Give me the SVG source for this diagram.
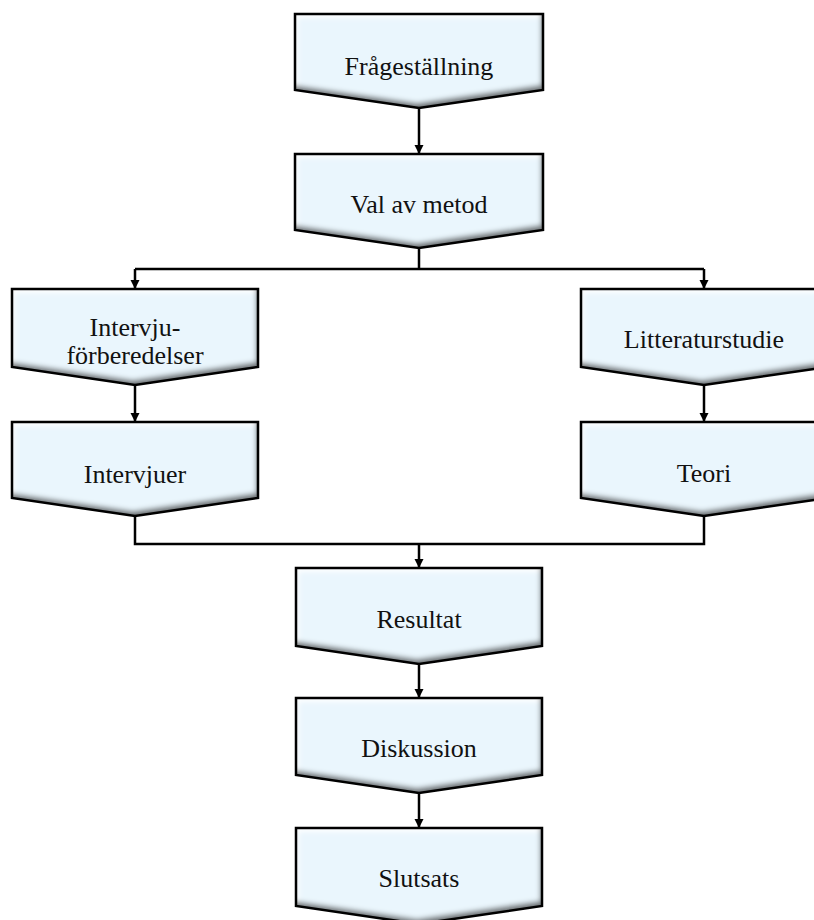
<svg xmlns="http://www.w3.org/2000/svg" width="814" height="920" viewBox="0 0 814 920">
<style>
.fill{fill:#eaf6fd;filter:url(#bevel)}
.edge{fill:none;stroke:#000;stroke-width:2.5;stroke-linejoin:miter}
.lbl{font-family:"Liberation Serif","Times New Roman",serif;font-size:26px;fill:#111;text-anchor:middle}
.con{fill:none;stroke:#000;stroke-width:2.5}
</style>
<defs>
<marker id="ah" viewBox="0 0 10 10" refX="10" refY="5" markerWidth="3.8" markerHeight="3.8" orient="auto" markerUnits="strokeWidth">
<path d="M0,0 L10,5 L0,10 z" fill="#000"/>
</marker>
<filter id="bevel" x="-5%" y="-5%" width="110%" height="110%">
<feGaussianBlur in="SourceAlpha" stdDeviation="2.5" result="b"/>
<feOffset in="b" dx="-2" dy="-5" result="o1"/>
<feComposite in="SourceAlpha" in2="o1" operator="out" result="m1"/>
<feFlood flood-color="#3a3a3a" flood-opacity="0.85"/>
<feComposite in2="m1" operator="in" result="shadow"/>
<feOffset in="b" dx="3" dy="4" result="o2"/>
<feComposite in="SourceAlpha" in2="o2" operator="out" result="m2"/>
<feFlood flood-color="#ffffff" flood-opacity="0.9"/>
<feComposite in2="m2" operator="in" result="hi"/>
<feMerge><feMergeNode in="SourceGraphic"/><feMergeNode in="hi"/><feMergeNode in="shadow"/></feMerge>
</filter>
</defs>
<g id="connectors">
<path class="con" d="M419,108 V154" marker-end="url(#ah)"/>
<path class="con" d="M419,248 V269"/>
<path class="con" d="M135,269 H704"/>
<path class="con" d="M135,269 V289" marker-end="url(#ah)"/>
<path class="con" d="M704,269 V289" marker-end="url(#ah)"/>
<path class="con" d="M135,385 V422" marker-end="url(#ah)"/>
<path class="con" d="M704,385 V422" marker-end="url(#ah)"/>
<path class="con" d="M135,516 V544 H704 V516"/>
<path class="con" d="M419,544 V568" marker-end="url(#ah)"/>
<path class="con" d="M419,664 V698" marker-end="url(#ah)"/>
<path class="con" d="M419,793 V828" marker-end="url(#ah)"/>
</g>
<g id="n1">
<polygon class="fill" points="295,14 543,14 543,90 419,108 295,90"/>
<polygon class="edge" points="295,14 543,14 543,90 419,108 295,90"/>
<text class="lbl" x="419" y="75">Frågeställning</text>
</g>
<g id="n2">
<polygon class="fill" points="295,154 543,154 543,230 419,248 295,230"/>
<polygon class="edge" points="295,154 543,154 543,230 419,248 295,230"/>
<text class="lbl" x="419" y="213">Val av metod</text>
</g>
<g id="n3">
<polygon class="fill" points="12,289 258,289 258,367 135,385 12,367"/>
<polygon class="edge" points="12,289 258,289 258,367 135,385 12,367"/>
<text class="lbl" x="135" y="336">Intervju-</text>
<text class="lbl" x="135" y="364">förberedelser</text>
</g>
<g id="n4">
<polygon class="fill" points="12,422 258,422 258,498 135,516 12,498"/>
<polygon class="edge" points="12,422 258,422 258,498 135,516 12,498"/>
<text class="lbl" x="135" y="483">Intervjuer</text>
</g>
<g id="n5">
<polygon class="fill" points="581,289 827,289 827,367 704,385 581,367"/>
<polygon class="edge" points="581,289 827,289 827,367 704,385 581,367"/>
<text class="lbl" x="704" y="348">Litteraturstudie</text>
</g>
<g id="n6">
<polygon class="fill" points="581,422 827,422 827,498 704,516 581,498"/>
<polygon class="edge" points="581,422 827,422 827,498 704,516 581,498"/>
<text class="lbl" x="704" y="482">Teori</text>
</g>
<g id="n7">
<polygon class="fill" points="296,568 542,568 542,646 419,664 296,646"/>
<polygon class="edge" points="296,568 542,568 542,646 419,664 296,646"/>
<text class="lbl" x="419" y="628">Resultat</text>
</g>
<g id="n8">
<polygon class="fill" points="296,698 542,698 542,775 419,793 296,775"/>
<polygon class="edge" points="296,698 542,698 542,775 419,793 296,775"/>
<text class="lbl" x="419" y="757">Diskussion</text>
</g>
<g id="n9">
<polygon class="fill" points="296,828 542,828 542,906 419,924 296,906"/>
<polygon class="edge" points="296,828 542,828 542,906 419,924 296,906"/>
<text class="lbl" x="419" y="887">Slutsats</text>
</g>
</svg>
